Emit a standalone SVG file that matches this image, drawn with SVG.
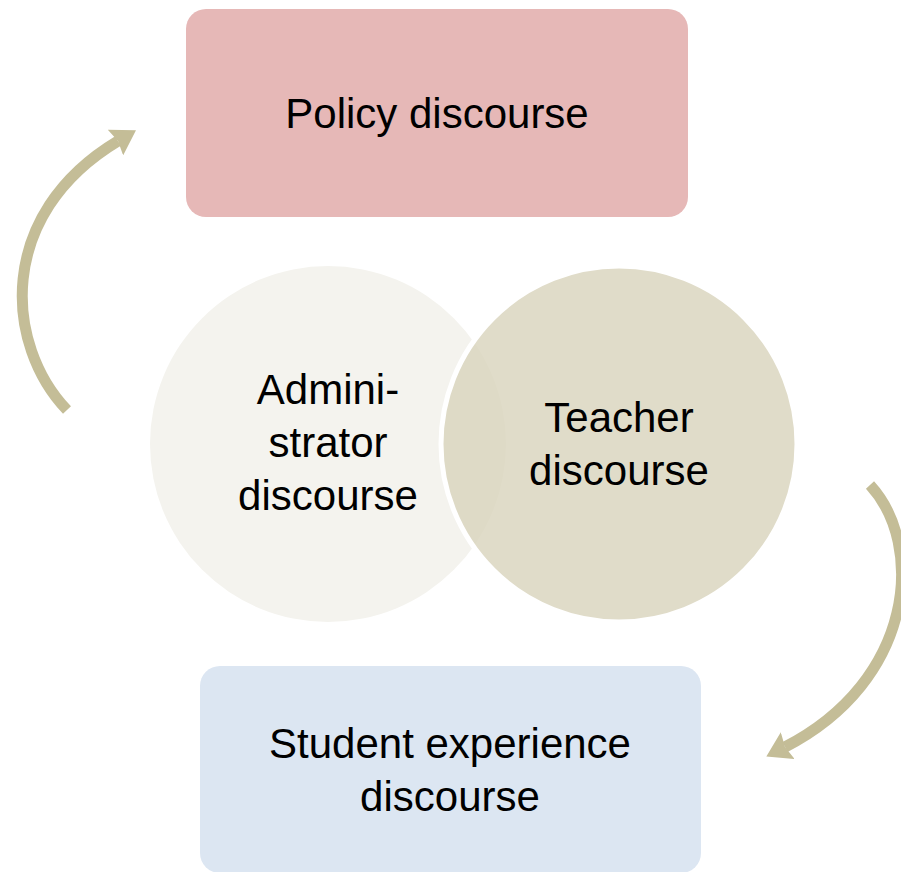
<svg xmlns="http://www.w3.org/2000/svg" width="901" height="872" viewBox="0 0 901 872">
<style>
text{font-family:"Liberation Sans",Arial,sans-serif;font-size:42px;fill:#000;text-anchor:middle}
.arc{fill:none;stroke:#C4BD97;stroke-width:11;marker-end:url(#head)}
</style>
<defs>
<marker id="head" markerUnits="userSpaceOnUse" viewBox="0 0 24 30" markerWidth="24" markerHeight="30" refX="3" refY="15" orient="auto">
<path d="M0,0 L24,15 L0,30 L3,15 Z" fill="#C4BD97"/>
</marker>
</defs>
<rect width="901" height="872" fill="#fff"/>
<g id="connectors">
<path class="arc" d="M67,410 C5,345 -5,215 118,141"/>
<path class="arc" d="M870,485 C925,545 915,680 785,747"/>
</g>
<g id="policy">
<rect x="186" y="9" width="502" height="208" rx="20" fill="#E6B8B7"/>
<text x="437" y="128">Policy discourse</text>
</g>
<g id="administrator">
<circle cx="328" cy="444" r="178" fill="#F4F3EE"/>
<text x="328" y="404">Admini-</text>
<text x="328" y="457">strator</text>
<text x="328" y="510">discourse</text>
</g>
<g id="teacher">
<circle cx="619" cy="444" r="178" fill="#D9D4BD" fill-opacity="0.82" stroke="#fff" stroke-width="5"/>
<text x="619" y="432">Teacher</text>
<text x="619" y="485">discourse</text>
</g>
<g id="student">
<rect x="200" y="666" width="501" height="207" rx="20" fill="#DCE6F2"/>
<text x="450" y="758">Student experience</text>
<text x="450" y="811">discourse</text>
</g>
</svg>
